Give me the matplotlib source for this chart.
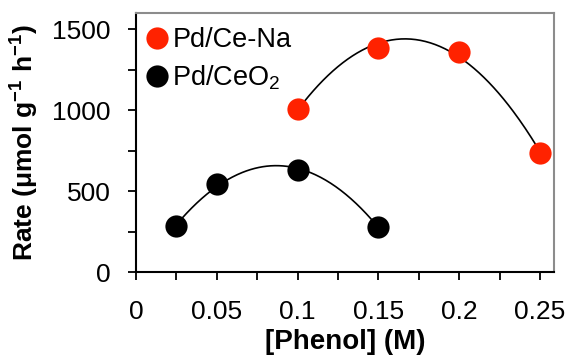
import numpy as np
import matplotlib.pyplot as plt
from matplotlib.ticker import MultipleLocator

plt.rcParams['font.family'] = ['Liberation Sans', 'DejaVu Sans']
plt.rcParams['mathtext.fontset'] = 'custom'
plt.rcParams['mathtext.rm'] = 'Liberation Sans'
plt.rcParams['mathtext.bf'] = 'Liberation Sans:bold'
plt.rcParams['mathtext.it'] = 'Liberation Sans:italic'

# phenol concentration (M) and rate (umol g-1 h-1)
phenol_na = [0.10, 0.15, 0.20, 0.25]
rate_na = [1010, 1383, 1358, 734]
phenol_ceo2 = [0.025, 0.05, 0.10, 0.15]
rate_ceo2 = [284, 543, 630, 278]

fig = plt.figure(figsize=(5.68, 3.6), dpi=100)
ax = fig.add_axes([136 / 568, 88 / 360, 418 / 568, 259 / 360])

# second-order trendlines through each series
for xs, ys in [(phenol_na, rate_na), (phenol_ceo2, rate_ceo2)]:
    coef = np.polyfit(xs, ys, 2)
    xx = np.linspace(min(xs), max(xs), 200)
    ax.plot(xx, np.polyval(coef, xx), color='black', lw=1.2, zorder=2)

ax.plot(phenol_na, rate_na, 'o', color='#ff2200', ms=16, mew=0,
        label='Pd/Ce-Na', zorder=3)
ax.plot(phenol_ceo2, rate_ceo2, 'o', color='black', ms=16, mew=0,
        label='Pd/CeO$_2$', zorder=3)

ax.set_xlim(0, 0.2587)
ax.set_ylim(0, 1600)
ax.xaxis.set_minor_locator(MultipleLocator(0.025))
ax.yaxis.set_major_locator(MultipleLocator(500))
ax.yaxis.set_minor_locator(MultipleLocator(250))
ax.set_xticks([0, 0.05, 0.1, 0.15, 0.2, 0.25])
ax.set_xticklabels(['0', '0.05', '0.1', '0.15', '0.2', '0.25'])
ax.tick_params(which='both', direction='out', length=6, width=1.3,
               labelsize=19, colors='black')
ax.tick_params(axis='x', pad=14)
ax.tick_params(axis='y', pad=12)

for side in ['left', 'bottom']:
    ax.spines[side].set_linewidth(1.5)
for side in ['top', 'right']:
    ax.spines[side].set_color('#8c8c8c')
    ax.spines[side].set_linewidth(1.5)

ax.set_xlabel('[Phenol] (M)', fontsize=20, fontweight='bold', labelpad=4)
ax.set_ylabel('Rate (μmol g$^{\\mathbf{-1}}$ h$^{\\mathbf{-1}}$)', fontsize=19,
              fontweight='bold', labelpad=8)

ax.legend(loc='upper left', bbox_to_anchor=(9 / 418, 1 - 14 / 259),
          frameon=False, fontsize=19.5, handlelength=0.9,
          handletextpad=0.11, labelspacing=0.4, borderaxespad=0,
          borderpad=0)

fig.savefig('out.png', dpi=100)
